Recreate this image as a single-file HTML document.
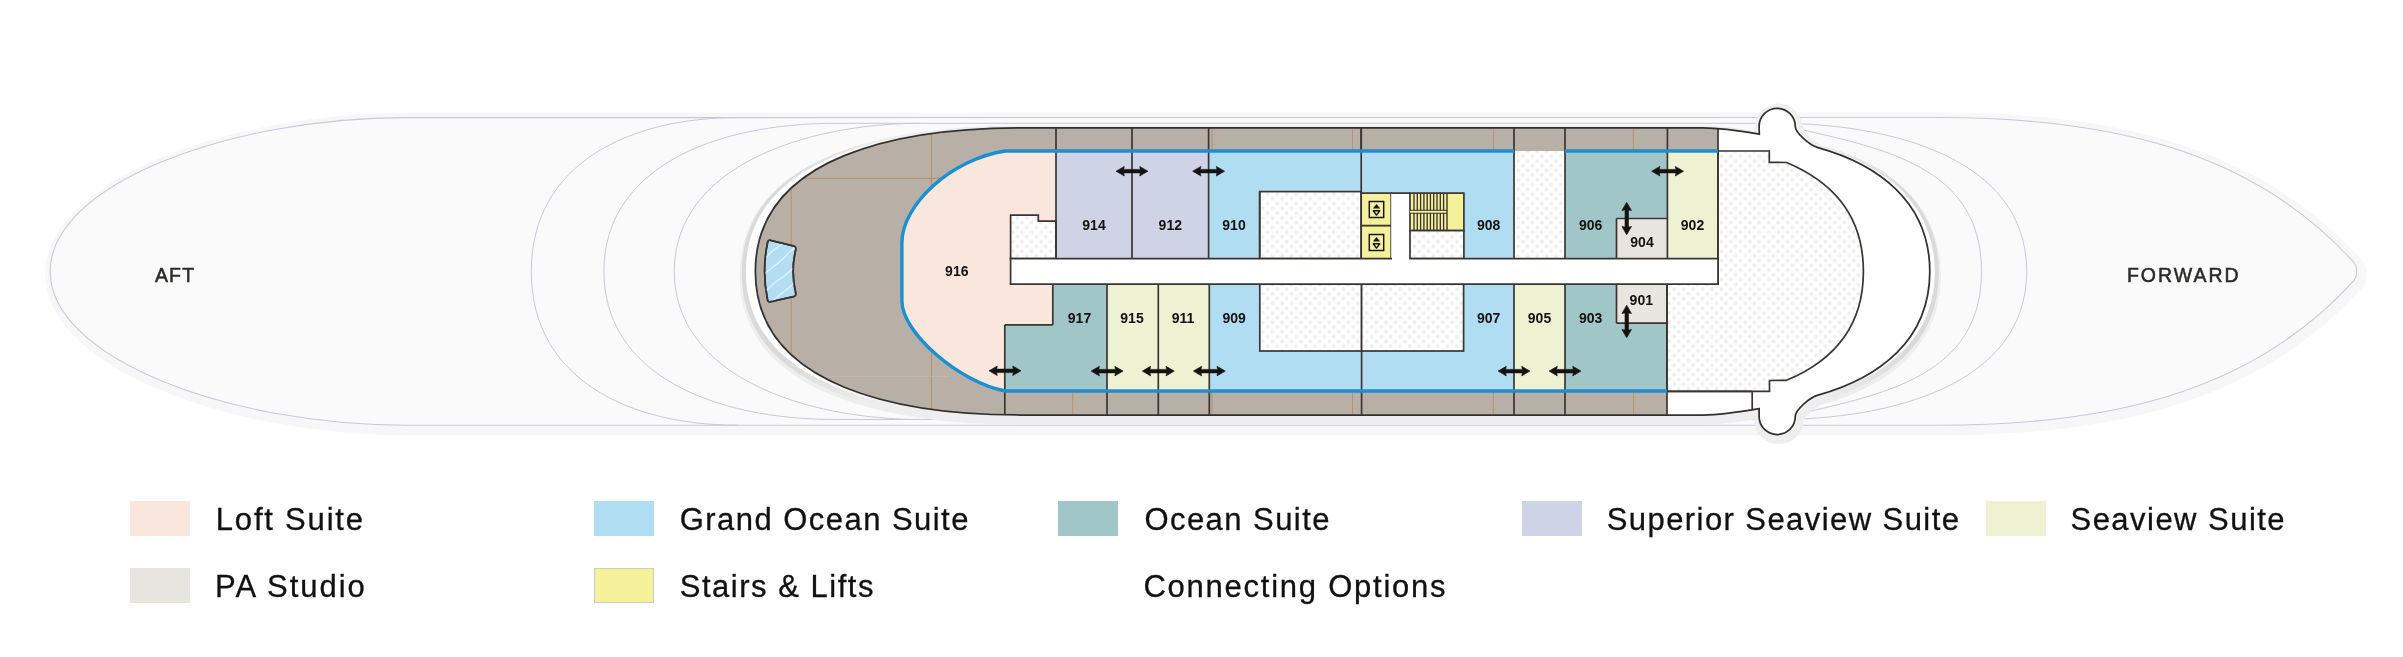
<!DOCTYPE html>
<html><head><meta charset="utf-8"><style>
html,body{margin:0;padding:0;background:#fff;width:2403px;height:657px;overflow:hidden;position:relative}
.lb{font-family:"Liberation Sans",sans-serif;font-weight:bold;font-size:14px;fill:#141210;text-anchor:middle}
.dir{font-family:"Liberation Sans",sans-serif;font-size:19.5px;fill:#2b2a29;stroke:#2b2a29;stroke-width:0.5px}
.lt{font-family:"Liberation Sans",sans-serif;font-size:31px;fill:#111;stroke:#111;stroke-width:0.3px}
</style></head><body>
<svg width="2403" height="657" viewBox="0 0 2403 657" style="position:absolute;left:0;top:0;will-change:transform">
<defs>
<pattern id="dots" x="3.85" y="6.5" width="9.45" height="9.5" patternUnits="userSpaceOnUse">
<rect width="9.45" height="9.5" fill="#ffffff"/>
<circle cx="2.4" cy="2.4" r="1.85" fill="#eeeeee"/><circle cx="7.13" cy="7.15" r="1.85" fill="#eeeeee"/>
</pattern>
<filter id="blur0" x="-5%" y="-20%" width="110%" height="140%"><feGaussianBlur stdDeviation="0.7"/></filter>
<filter id="blur1" x="-5%" y="-20%" width="110%" height="140%"><feGaussianBlur stdDeviation="1.6"/></filter>
<filter id="blur2" x="-5%" y="-20%" width="110%" height="140%"><feGaussianBlur stdDeviation="1.5"/></filter>
<clipPath id="bowclip"><path d="M1718,100 L2000,100 L2000,271 L2000,450 L1667,450 L1667,271 L1718,271 Z"/></clipPath>
</defs>
<path d="M406.3,117.6 L1937.5,117.5 C2101.6,117.5 2249.5,146.9 2353.5,262 C2356.2,265 2356.6,268 2356.6,271.4 C2356.6,274.8 2356.2,277.8 2353.5,280.8 C2249.5,395.9 2101.6,425.3 1937.5,425.3 L406.3,425.2 C227.4,425.2 50.2,357.8 50.2,271.4 C50.2,185 227.4,117.6 406.3,117.6 Z" fill="#f7f7f7" stroke="#f7f7f7" stroke-width="15" stroke-linejoin="round" transform="translate(2.5,2.6)" filter="url(#blur0)"/>
<path d="M406.3,117.6 L1937.5,117.5 C2101.6,117.5 2249.5,146.9 2353.5,262 C2356.2,265 2356.6,268 2356.6,271.4 C2356.6,274.8 2356.2,277.8 2353.5,280.8 C2249.5,395.9 2101.6,425.3 1937.5,425.3 L406.3,425.2 C227.4,425.2 50.2,357.8 50.2,271.4 C50.2,185 227.4,117.6 406.3,117.6 Z" fill="#fafafa" stroke="#c9c8dc" stroke-width="1.1"/>
<path d="M737.2,117.6 C630.2,117.6 531.3,163 531.3,271.4 C531.3,379.8 630.2,425.2 737.2,425.2" fill="none" stroke="#c9c8dc" stroke-width="1"/>
<path d="M835.7,123.3 C712.4,123.3 603.9,168.9 603.9,271.4 C603.9,373.9 712.4,419.5 835.7,419.5" fill="none" stroke="#c9c8dc" stroke-width="1"/>
<path d="M920.7,123.3 C807,123.3 674.3,165.7 674.3,271.4 C674.3,377.1 807,419.5 920.7,419.5" fill="none" stroke="#c9c8dc" stroke-width="1"/>
<path d="M1776.4,123.3 C1889.5,123.3 2026.7,157.5 2026.7,271.4 C2026.7,385.3 1889.5,419.5 1776.4,419.5" fill="none" stroke="#c9c8dc" stroke-width="1"/>
<path d="M1790,127 C1882.4,148.2 1981.5,165.8 1981.5,271.4 C1981.5,377 1882.4,394.6 1790,415.8" fill="none" stroke="#c9c8dc" stroke-width="1"/>
<line x1="835.7" y1="123.3" x2="1776.4" y2="123.3" stroke="#c9c8dc" stroke-width="1.0"/>
<line x1="835.7" y1="419.5" x2="1776.4" y2="419.5" stroke="#c9c8dc" stroke-width="1.0"/>
<clipPath id="cl"><rect x="0" y="0" width="1400" height="657"/></clipPath><clipPath id="cr"><rect x="1400" y="0" width="1003" height="657"/></clipPath>
<linearGradient id="gst" gradientUnits="userSpaceOnUse" x1="790" y1="0" x2="880" y2="0"><stop offset="0" stop-color="#dadada" stop-opacity="1"/><stop offset="1" stop-color="#dadada" stop-opacity="0"/></linearGradient>
<linearGradient id="gbw" gradientUnits="userSpaceOnUse" x1="1905" y1="0" x2="1820" y2="0"><stop offset="0" stop-color="#dadada" stop-opacity="1"/><stop offset="1" stop-color="#dadada" stop-opacity="0"/></linearGradient>
<g clip-path="url(#cl)"><g transform="translate(0,3.6)" filter="url(#blur0)"><path d="M1021.1,127.8 L1703,127.8 C1720,127.8 1740,130.8 1759.3,134.1 L1759.1,126.4 A18.1,18.1 0 0 1 1795.3,126.4 C1795.3,132.4 1809.3,145.2 1818,147.6 C1878.5,164.4 1929.8,202.2 1929.8,271.4 C1929.8,340.6 1878.5,378.3 1818,395.2 C1809.3,397.6 1795.3,410.4 1795.3,416.4 A18.1,18.1 0 0 1 1759.1,416.4 L1759.1,408.7 C1740,412 1720,415 1703,415 L1021.1,415 C903.6,415 755.4,388.7 755.4,271.4 C755.4,154.1 903.6,127.8 1021.1,127.8 Z" transform="matrix(1.0276,0,0,1,-30.36,0)" fill="#eeeeee" stroke="#eeeeee" stroke-width="12" stroke-linejoin="round"/></g></g>
<g clip-path="url(#cr)"><g transform="translate(0,3.6)" filter="url(#blur0)"><path d="M1021.1,127.8 L1703,127.8 C1720,127.8 1740,130.8 1759.3,134.1 L1759.1,126.4 A18.1,18.1 0 0 1 1795.3,126.4 C1795.3,132.4 1809.3,145.2 1818,147.6 C1878.5,164.4 1929.8,202.2 1929.8,271.4 C1929.8,340.6 1878.5,378.3 1818,395.2 C1809.3,397.6 1795.3,410.4 1795.3,416.4 A18.1,18.1 0 0 1 1759.1,416.4 L1759.1,408.7 C1740,412 1720,415 1703,415 L1021.1,415 C903.6,415 755.4,388.7 755.4,271.4 C755.4,154.1 903.6,127.8 1021.1,127.8 Z" transform="matrix(1.0217,0,0,1,-36.9,0)" fill="#eeeeee" stroke="#eeeeee" stroke-width="12" stroke-linejoin="round"/></g></g>
<g clip-path="url(#cl)"><g transform="translate(0,1.5)" filter="url(#blur0)"><path d="M1021.1,127.8 L1703,127.8 C1720,127.8 1740,130.8 1759.3,134.1 L1759.1,126.4 A18.1,18.1 0 0 1 1795.3,126.4 C1795.3,132.4 1809.3,145.2 1818,147.6 C1878.5,164.4 1929.8,202.2 1929.8,271.4 C1929.8,340.6 1878.5,378.3 1818,395.2 C1809.3,397.6 1795.3,410.4 1795.3,416.4 A18.1,18.1 0 0 1 1759.1,416.4 L1759.1,408.7 C1740,412 1720,415 1703,415 L1021.1,415 C903.6,415 755.4,388.7 755.4,271.4 C755.4,154.1 903.6,127.8 1021.1,127.8 Z" transform="matrix(1.0276,0,0,1,-30.36,0)" fill="none" stroke="url(#gst)" stroke-width="8" stroke-linejoin="round"/></g></g>
<g clip-path="url(#cr)"><g transform="translate(0,1.5)" filter="url(#blur0)"><path d="M1021.1,127.8 L1703,127.8 C1720,127.8 1740,130.8 1759.3,134.1 L1759.1,126.4 A18.1,18.1 0 0 1 1795.3,126.4 C1795.3,132.4 1809.3,145.2 1818,147.6 C1878.5,164.4 1929.8,202.2 1929.8,271.4 C1929.8,340.6 1878.5,378.3 1818,395.2 C1809.3,397.6 1795.3,410.4 1795.3,416.4 A18.1,18.1 0 0 1 1759.1,416.4 L1759.1,408.7 C1740,412 1720,415 1703,415 L1021.1,415 C903.6,415 755.4,388.7 755.4,271.4 C755.4,154.1 903.6,127.8 1021.1,127.8 Z" transform="matrix(1.0217,0,0,1,-36.9,0)" fill="none" stroke="url(#gbw)" stroke-width="8" stroke-linejoin="round"/></g></g>
<circle cx="1778.7" cy="126.9" r="23.3" fill="#efefef" filter="url(#blur0)"/>
<circle cx="1778.7" cy="417.59999999999997" r="23.5" fill="#eeeeee" filter="url(#blur0)"/>
<g clip-path="url(#cl)"><path d="M1021.1,127.8 L1703,127.8 C1720,127.8 1740,130.8 1759.3,134.1 L1759.1,126.4 A18.1,18.1 0 0 1 1795.3,126.4 C1795.3,132.4 1809.3,145.2 1818,147.6 C1878.5,164.4 1929.8,202.2 1929.8,271.4 C1929.8,340.6 1878.5,378.3 1818,395.2 C1809.3,397.6 1795.3,410.4 1795.3,416.4 A18.1,18.1 0 0 1 1759.1,416.4 L1759.1,408.7 C1740,412 1720,415 1703,415 L1021.1,415 C903.6,415 755.4,388.7 755.4,271.4 C755.4,154.1 903.6,127.8 1021.1,127.8 Z" transform="matrix(1.0276,0,0,1,-30.36,0)" fill="#ffffff"/></g>
<g clip-path="url(#cr)"><path d="M1021.1,127.8 L1703,127.8 C1720,127.8 1740,130.8 1759.3,134.1 L1759.1,126.4 A18.1,18.1 0 0 1 1795.3,126.4 C1795.3,132.4 1809.3,145.2 1818,147.6 C1878.5,164.4 1929.8,202.2 1929.8,271.4 C1929.8,340.6 1878.5,378.3 1818,395.2 C1809.3,397.6 1795.3,410.4 1795.3,416.4 A18.1,18.1 0 0 1 1759.1,416.4 L1759.1,408.7 C1740,412 1720,415 1703,415 L1021.1,415 C903.6,415 755.4,388.7 755.4,271.4 C755.4,154.1 903.6,127.8 1021.1,127.8 Z" transform="matrix(1.0217,0,0,1,-36.9,0)" fill="#ffffff"/></g>
<path d="M1021.1,127.8 L1703,127.8 C1720,127.8 1740,130.8 1759.3,134.1 L1759.1,126.4 A18.1,18.1 0 0 1 1795.3,126.4 C1795.3,132.4 1809.3,145.2 1818,147.6 C1878.5,164.4 1929.8,202.2 1929.8,271.4 C1929.8,340.6 1878.5,378.3 1818,395.2 C1809.3,397.6 1795.3,410.4 1795.3,416.4 A18.1,18.1 0 0 1 1759.1,416.4 L1759.1,408.7 C1740,412 1720,415 1703,415 L1021.1,415 C903.6,415 755.4,388.7 755.4,271.4 C755.4,154.1 903.6,127.8 1021.1,127.8 Z" fill="#b8afa6"/>
<path d="M1021.1,127.8 L1703,127.8 C1720,127.8 1740,130.8 1759.3,134.1 L1759.1,126.4 A18.1,18.1 0 0 1 1795.3,126.4 C1795.3,132.4 1809.3,145.2 1818,147.6 C1878.5,164.4 1929.8,202.2 1929.8,271.4 C1929.8,340.6 1878.5,378.3 1818,395.2 C1809.3,397.6 1795.3,410.4 1795.3,416.4 A18.1,18.1 0 0 1 1759.1,416.4 L1759.1,408.7 C1740,412 1720,415 1703,415 L1021.1,415 C903.6,415 755.4,388.7 755.4,271.4 C755.4,154.1 903.6,127.8 1021.1,127.8 Z" fill="#ffffff" clip-path="url(#bowclip)"/>
<clipPath id="deckclip"><path d="M1021.1,127.8 L1703,127.8 C1720,127.8 1740,130.8 1759.3,134.1 L1759.1,126.4 A18.1,18.1 0 0 1 1795.3,126.4 C1795.3,132.4 1809.3,145.2 1818,147.6 C1878.5,164.4 1929.8,202.2 1929.8,271.4 C1929.8,340.6 1878.5,378.3 1818,395.2 C1809.3,397.6 1795.3,410.4 1795.3,416.4 A18.1,18.1 0 0 1 1759.1,416.4 L1759.1,408.7 C1740,412 1720,415 1703,415 L1021.1,415 C903.6,415 755.4,388.7 755.4,271.4 C755.4,154.1 903.6,127.8 1021.1,127.8 Z"/></clipPath><g clip-path="url(#deckclip)">
<line x1="931.5" y1="120" x2="931.5" y2="420" stroke="#b98c5e" stroke-width="0.9"/>
<line x1="780" y1="178.3" x2="950" y2="178.3" stroke="#b98c5e" stroke-width="0.9"/>
<line x1="791.2" y1="178.3" x2="791.2" y2="355.2" stroke="#b98c5e" stroke-width="0.9"/>
<line x1="792" y1="376.5" x2="950" y2="376.5" stroke="#c2b8ae" stroke-width="0.9"/>
</g>
<line x1="1212.2" y1="128.5" x2="1212.2" y2="150" stroke="#b98c5e" stroke-width="0.8"/>
<line x1="1352.5" y1="128.5" x2="1352.5" y2="150" stroke="#b98c5e" stroke-width="0.8"/>
<line x1="1493.5" y1="128.5" x2="1493.5" y2="150" stroke="#b98c5e" stroke-width="0.8"/>
<line x1="1633.3" y1="128.5" x2="1633.3" y2="150" stroke="#b98c5e" stroke-width="0.8"/>
<line x1="1072.7" y1="392" x2="1072.7" y2="414" stroke="#b98c5e" stroke-width="0.8"/>
<line x1="1211.9" y1="392" x2="1211.9" y2="414" stroke="#b98c5e" stroke-width="0.8"/>
<line x1="1352.5" y1="392" x2="1352.5" y2="414" stroke="#b98c5e" stroke-width="0.8"/>
<line x1="1493.3" y1="392" x2="1493.3" y2="414" stroke="#b98c5e" stroke-width="0.8"/>
<line x1="1633.5" y1="392" x2="1633.5" y2="414" stroke="#b98c5e" stroke-width="0.8"/>
<path d="M770.3,240.3 L794.2,246.2 Q796,246.8 795.8,249.5 Q790.4,271 795.8,293.5 Q796,296 794.2,296.5 L770.3,301.8 Q768,302.3 767.6,300 Q761.6,271 767.6,242.5 Q768,239.8 770.3,240.3 Z" fill="#b2ddf3" stroke="#3a3533" stroke-width="1.8"/>
<clipPath id="poolclip"><path d="M770.3,240.3 L794.2,246.2 Q796,246.8 795.8,249.5 Q790.4,271 795.8,293.5 Q796,296 794.2,296.5 L770.3,301.8 Q768,302.3 767.6,300 Q761.6,271 767.6,242.5 Q768,239.8 770.3,240.3 Z"/></clipPath>
<path clip-path="url(#poolclip)" d="M765,258.5 C770,253 776,247 786,242 M764,274.5 C772,267 780,262 784,258 C788,254 792,249 797,246 M765,291 C772,285 778,280 783,277 C788,273 792,269 797,266 M770,303 C776,298 782,293 786,290 C790,287 794,283 797,281" fill="none" stroke="#e2f2fb" stroke-width="1.3"/>
<path d="M770.3,240.3 L794.2,246.2 Q796,246.8 795.8,249.5 Q790.4,271 795.8,293.5 Q796,296 794.2,296.5 L770.3,301.8 Q768,302.3 767.6,300 Q761.6,271 767.6,242.5 Q768,239.8 770.3,240.3 Z" fill="none" stroke="#3a3533" stroke-width="1.55"/>
<path d="M1056,151 L1005.5,151 C951.6,158.8 901.9,204.8 901.9,242.8 L901.9,300.9 C901.9,333.3 960.3,382.6 1005.5,391 L1004.8,391 L1004.8,324.8 L1052.8,324.8 L1052.8,284.2 L1010.6,284.2 L1010.6,258.6 L1056,258.6 Z" fill="#f9e6dd"/>
<rect x="1056" y="151" width="76" height="107.6" fill="#cfd3e6"/>
<rect x="1132" y="151" width="76.6" height="107.6" fill="#cfd3e6"/>
<rect x="1208.6" y="151" width="305.4" height="107.6" fill="#b1ddf3"/>
<rect x="1514" y="151" width="51" height="107.6" fill="url(#dots)"/>
<rect x="1565" y="151" width="102.4" height="107.6" fill="#a0c6c7"/>
<rect x="1616.5" y="218.5" width="50.9" height="40.1" fill="#e8e4de"/>
<rect x="1667.4" y="151" width="50.6" height="107.6" fill="#eef1d2"/>
<path d="M1010.6,215.2 L1038.3,215.2 L1038.3,221.1 L1056,221.1 L1056,258.6 L1010.6,258.6 Z" fill="url(#dots)" stroke="#3a3533" stroke-width="1.7"/>
<rect x="1259.7" y="191.6" width="101.5" height="67" fill="url(#dots)" stroke="#3a3533" stroke-width="1.7"/>
<rect x="1361.2" y="193.1" width="30" height="32.6" fill="#f5f09a" stroke="#3a3533" stroke-width="1.7"/>
<rect x="1361.2" y="225.7" width="30" height="33.1" fill="#f5f09a" stroke="#3a3533" stroke-width="1.7"/>
<rect x="1391.2" y="193.1" width="18.8" height="66.9" fill="#ffffff"/>
<line x1="1391.2" y1="193.1" x2="1410" y2="193.1" stroke="#3a3533" stroke-width="1.7"/>
<rect x="1410" y="193.1" width="53.9" height="37.5" fill="#f5f09a" stroke="#3a3533" stroke-width="1.7"/>
<rect x="1410" y="230.6" width="53.9" height="28" fill="url(#dots)" stroke="#3a3533" stroke-width="1.7"/>
<rect x="1369.3" y="201.5" width="14.4" height="16" fill="none" stroke="#161412" stroke-width="1.45"/><polygon points="1376.5,204.1 1380.1,208.5 1372.9,208.5" fill="#151311"/><polygon points="1373.3,210.8 1379.7,210.8 1376.5,215.1" fill="none" stroke="#151311" stroke-width="1.45" stroke-linejoin="round"/>
<rect x="1369.3" y="234.5" width="14.4" height="16" fill="none" stroke="#161412" stroke-width="1.45"/><polygon points="1376.5,237.1 1380.1,241.5 1372.9,241.5" fill="#151311"/><polygon points="1373.3,243.8 1379.7,243.8 1376.5,248.1" fill="none" stroke="#151311" stroke-width="1.45" stroke-linejoin="round"/>
<line x1="1414" y1="193.5" x2="1414" y2="230.2" stroke="#3a3533" stroke-width="1.35"/><line x1="1417.3" y1="193.5" x2="1417.3" y2="230.2" stroke="#3a3533" stroke-width="1.35"/><line x1="1420.6" y1="193.5" x2="1420.6" y2="230.2" stroke="#3a3533" stroke-width="1.35"/><line x1="1423.9" y1="193.5" x2="1423.9" y2="230.2" stroke="#3a3533" stroke-width="1.35"/><line x1="1427.2" y1="193.5" x2="1427.2" y2="230.2" stroke="#3a3533" stroke-width="1.35"/><line x1="1430.4" y1="193.5" x2="1430.4" y2="230.2" stroke="#3a3533" stroke-width="1.35"/><line x1="1433.7" y1="193.5" x2="1433.7" y2="230.2" stroke="#3a3533" stroke-width="1.35"/><line x1="1437" y1="193.5" x2="1437" y2="230.2" stroke="#3a3533" stroke-width="1.35"/><line x1="1440.3" y1="193.5" x2="1440.3" y2="230.2" stroke="#3a3533" stroke-width="1.35"/><line x1="1443.6" y1="193.5" x2="1443.6" y2="230.2" stroke="#3a3533" stroke-width="1.35"/>
<rect x="1410" y="210.6" width="37" height="2.4" fill="#f5f09a"/>
<line x1="1410" y1="210.3" x2="1447" y2="210.3" stroke="#3a3533" stroke-width="1.1"/>
<line x1="1410" y1="213.3" x2="1447" y2="213.3" stroke="#3a3533" stroke-width="1.1"/>
<line x1="1447" y1="193.1" x2="1447" y2="230.6" stroke="#3a3533" stroke-width="1.4"/>
<path d="M1052.8,284.2 L1107,284.2 L1107,391 L1004.8,391 L1004.8,324.8 L1052.8,324.8 Z" fill="#a0c6c7"/>
<rect x="1107" y="284.2" width="51.3" height="106.8" fill="#eef1d2"/>
<rect x="1158.3" y="284.2" width="51" height="106.8" fill="#eef1d2"/>
<rect x="1209.3" y="284.2" width="304.7" height="106.8" fill="#b1ddf3"/>
<rect x="1514" y="284.2" width="51" height="106.8" fill="#eef1d2"/>
<rect x="1565" y="284.2" width="102" height="106.8" fill="#a0c6c7"/>
<rect x="1616.5" y="284.2" width="50.5" height="38.9" fill="#e8e4de"/>
<rect x="1259.8" y="284.2" width="101.8" height="66.8" fill="url(#dots)" stroke="#3a3533" stroke-width="1.7"/>
<rect x="1361.6" y="284.2" width="102" height="66.8" fill="url(#dots)" stroke="#3a3533" stroke-width="1.7"/>
<path d="M1718,151 L1769.3,151 L1769.3,162.3 L1786.5,162.5 C1837.7,183.9 1863.4,219.1 1863.4,271.4 C1863.4,323.7 1837.7,358.9 1786.5,380.3 L1769.5,380.5 L1769.5,391.4 L1667,391.4 L1667,284.2 L1718,284.2 Z" fill="url(#dots)" stroke="#3a3533" stroke-width="1.7"/>
<rect x="1010.6" y="258.6" width="707.4" height="25.6" fill="#ffffff"/>
<line x1="1009.8" y1="258.6" x2="1392" y2="258.6" stroke="#3a3533" stroke-width="1.7"/>
<line x1="1409.2" y1="258.6" x2="1718.8" y2="258.6" stroke="#3a3533" stroke-width="1.7"/>
<line x1="1009.8" y1="284.2" x2="1718.8" y2="284.2" stroke="#3a3533" stroke-width="1.7"/>
<line x1="1010.6" y1="258.6" x2="1010.6" y2="284.2" stroke="#3a3533" stroke-width="1.7"/>
<line x1="1718" y1="258.6" x2="1718" y2="284.2" stroke="#3a3533" stroke-width="1.7"/>
<line x1="1056" y1="128" x2="1056" y2="258.6" stroke="#3a3533" stroke-width="1.7"/>
<line x1="1132" y1="128" x2="1132" y2="258.6" stroke="#3a3533" stroke-width="1.7"/>
<line x1="1208.6" y1="128" x2="1208.6" y2="258.6" stroke="#3a3533" stroke-width="1.7"/>
<line x1="1361.2" y1="128" x2="1361.2" y2="193.1" stroke="#3a3533" stroke-width="1.7"/>
<line x1="1361.2" y1="128" x2="1361.2" y2="151" stroke="#3a3533" stroke-width="1.7"/>
<line x1="1514" y1="128" x2="1514" y2="258.6" stroke="#3a3533" stroke-width="1.7"/>
<line x1="1565" y1="128" x2="1565" y2="258.6" stroke="#3a3533" stroke-width="1.7"/>
<line x1="1667.4" y1="128" x2="1667.4" y2="258.6" stroke="#3a3533" stroke-width="1.7"/>
<line x1="1718" y1="128.7" x2="1718" y2="258.6" stroke="#3a3533" stroke-width="1.7"/>
<line x1="1616.5" y1="218.5" x2="1667.4" y2="218.5" stroke="#3a3533" stroke-width="1.7"/>
<line x1="1616.5" y1="218.5" x2="1616.5" y2="258.6" stroke="#3a3533" stroke-width="1.7"/>
<line x1="1259.7" y1="191.6" x2="1259.7" y2="258.6" stroke="#3a3533" stroke-width="1.7"/>
<line x1="1052.8" y1="284.2" x2="1052.8" y2="324.8" stroke="#3a3533" stroke-width="1.7"/>
<line x1="1004.8" y1="324.8" x2="1052.8" y2="324.8" stroke="#3a3533" stroke-width="1.7"/>
<line x1="1004.8" y1="324.8" x2="1004.8" y2="415" stroke="#3a3533" stroke-width="1.7"/>
<line x1="1107" y1="284.2" x2="1107" y2="415" stroke="#3a3533" stroke-width="1.7"/>
<line x1="1158.3" y1="284.2" x2="1158.3" y2="415" stroke="#3a3533" stroke-width="1.7"/>
<line x1="1209.3" y1="284.2" x2="1209.3" y2="415" stroke="#3a3533" stroke-width="1.7"/>
<line x1="1514" y1="284.2" x2="1514" y2="415" stroke="#3a3533" stroke-width="1.7"/>
<line x1="1565" y1="284.2" x2="1565" y2="415" stroke="#3a3533" stroke-width="1.7"/>
<line x1="1667" y1="284.2" x2="1667" y2="415" stroke="#3a3533" stroke-width="1.7"/>
<line x1="1361.6" y1="351" x2="1361.6" y2="415" stroke="#3a3533" stroke-width="1.7"/>
<line x1="1616.5" y1="323.1" x2="1667" y2="323.1" stroke="#3a3533" stroke-width="1.7"/>
<line x1="1616.5" y1="284.2" x2="1616.5" y2="323.1" stroke="#3a3533" stroke-width="1.7"/>
<line x1="1752.2" y1="391.4" x2="1752.2" y2="409.6" stroke="#3a3533" stroke-width="1.7"/>
<line x1="1667" y1="391.4" x2="1752.2" y2="391.4" stroke="#3a3533" stroke-width="1.7"/>
<path d="M1514,151 L1005.5,151 C951.6,158.8 901.9,204.8 901.9,242.8 L901.9,300.9 C901.9,333.3 960.3,382.6 1005.5,391 L1667,391" fill="none" stroke="#1b8fd4" stroke-width="3.4"/>
<line x1="1565" y1="151" x2="1718" y2="151" stroke="#1b8fd4" stroke-width="3.4"/>
<path d="M1021.1,127.8 L1703,127.8 C1720,127.8 1740,130.8 1759.3,134.1 L1759.1,126.4 A18.1,18.1 0 0 1 1795.3,126.4 C1795.3,132.4 1809.3,145.2 1818,147.6 C1878.5,164.4 1929.8,202.2 1929.8,271.4 C1929.8,340.6 1878.5,378.3 1818,395.2 C1809.3,397.6 1795.3,410.4 1795.3,416.4 A18.1,18.1 0 0 1 1759.1,416.4 L1759.1,408.7 C1740,412 1720,415 1703,415 L1021.1,415 C903.6,415 755.4,388.7 755.4,271.4 C755.4,154.1 903.6,127.8 1021.1,127.8 Z" fill="none" stroke="#33302e" stroke-width="1.75"/>
<polygon points="1116,171.2 1124.3,166.4 1123.7,169.4 1140.3,169.4 1139.7,166.4 1148,171.2 1139.7,176 1140.3,172.9 1123.7,172.9 1124.3,176" fill="#151311" stroke="#151311" stroke-width="0.6" stroke-linejoin="round"/>
<polygon points="1192.6,171.2 1200.9,166.4 1200.3,169.4 1216.9,169.4 1216.3,166.4 1224.6,171.2 1216.3,176 1216.9,172.9 1200.3,172.9 1200.9,176" fill="#151311" stroke="#151311" stroke-width="0.6" stroke-linejoin="round"/>
<polygon points="1651.6,171.2 1659.9,166.4 1659.3,169.4 1675.9,169.4 1675.3,166.4 1683.6,171.2 1675.3,176 1675.9,172.9 1659.3,172.9 1659.9,176" fill="#151311" stroke="#151311" stroke-width="0.6" stroke-linejoin="round"/>
<polygon points="989,370.8 997.3,366 996.7,369.1 1013.3,369.1 1012.7,366 1021,370.8 1012.7,375.6 1013.3,372.6 996.7,372.6 997.3,375.6" fill="#151311" stroke="#151311" stroke-width="0.6" stroke-linejoin="round"/>
<polygon points="1091.1,371.1 1099.4,366.3 1098.8,369.4 1115.4,369.4 1114.8,366.3 1123.1,371.1 1114.8,375.9 1115.4,372.9 1098.8,372.9 1099.4,375.9" fill="#151311" stroke="#151311" stroke-width="0.6" stroke-linejoin="round"/>
<polygon points="1142.3,371.1 1150.6,366.3 1150,369.4 1166.6,369.4 1166,366.3 1174.3,371.1 1166,375.9 1166.6,372.9 1150,372.9 1150.6,375.9" fill="#151311" stroke="#151311" stroke-width="0.6" stroke-linejoin="round"/>
<polygon points="1193.3,371.1 1201.6,366.3 1201,369.4 1217.6,369.4 1217,366.3 1225.3,371.1 1217,375.9 1217.6,372.9 1201,372.9 1201.6,375.9" fill="#151311" stroke="#151311" stroke-width="0.6" stroke-linejoin="round"/>
<polygon points="1498,371.1 1506.3,366.3 1505.7,369.4 1522.3,369.4 1521.7,366.3 1530,371.1 1521.7,375.9 1522.3,372.9 1505.7,372.9 1506.3,375.9" fill="#151311" stroke="#151311" stroke-width="0.6" stroke-linejoin="round"/>
<polygon points="1549,371.1 1557.3,366.3 1556.7,369.4 1573.3,369.4 1572.7,366.3 1581,371.1 1572.7,375.9 1573.3,372.9 1556.7,372.9 1557.3,375.9" fill="#151311" stroke="#151311" stroke-width="0.6" stroke-linejoin="round"/>
<polygon points="1626.7,202.2 1631.5,210.5 1628.5,209.9 1628.5,227.1 1631.5,226.5 1626.7,234.8 1621.9,226.5 1625,227.1 1625,209.9 1621.9,210.5" fill="#151311" stroke="#151311" stroke-width="0.6" stroke-linejoin="round"/>
<polygon points="1626.7,305.2 1631.5,313.5 1628.5,312.9 1628.5,330.1 1631.5,329.5 1626.7,337.8 1621.9,329.5 1625,330.1 1625,312.9 1621.9,313.5" fill="#151311" stroke="#151311" stroke-width="0.6" stroke-linejoin="round"/>
<text x="956.8" y="276.4" class="lb">916</text>
<text x="1094" y="230.4" class="lb">914</text>
<text x="1170.3" y="230.4" class="lb">912</text>
<text x="1234" y="230.4" class="lb">910</text>
<text x="1488.6" y="230.4" class="lb">908</text>
<text x="1590.6" y="230.4" class="lb">906</text>
<text x="1642" y="247.4" class="lb">904</text>
<text x="1692.5" y="230.4" class="lb">902</text>
<text x="1079.5" y="322.8" class="lb">917</text>
<text x="1132" y="322.8" class="lb">915</text>
<text x="1183" y="322.8" class="lb">911</text>
<text x="1234.2" y="322.8" class="lb">909</text>
<text x="1488.7" y="322.8" class="lb">907</text>
<text x="1539.5" y="322.8" class="lb">905</text>
<text x="1590.6" y="322.8" class="lb">903</text>
<text x="1641.3" y="304.8" class="lb">901</text>
<text x="154.9" y="281.6" class="dir" letter-spacing="1.2">AFT</text>
<text x="2126.9" y="281.7" class="dir" letter-spacing="2.0">FORWARD</text>
<rect x="130" y="501" width="60" height="35" fill="#f9e6dd"/>
<text x="215.8" y="530" class="lt" letter-spacing="1.8">Loft Suite</text>
<rect x="594" y="501" width="60" height="35" fill="#b1ddf3"/>
<text x="679.7" y="530" class="lt" letter-spacing="1.46">Grand Ocean Suite</text>
<rect x="1058" y="501" width="60" height="35" fill="#a0c6c7"/>
<text x="1144.4" y="530" class="lt" letter-spacing="1.45">Ocean Suite</text>
<rect x="1522" y="501" width="60" height="35" fill="#cfd3e6"/>
<text x="1606.7" y="530" class="lt" letter-spacing="1.43">Superior Seaview Suite</text>
<rect x="1986" y="501" width="60" height="35" fill="#eef1d2"/>
<text x="2070.5" y="530" class="lt" letter-spacing="1.47">Seaview Suite</text>
<rect x="130" y="568" width="60" height="35" fill="#e8e4de"/>
<text x="215" y="597" class="lt" letter-spacing="2.0">PA Studio</text>
<rect x="594.5" y="568.5" width="59" height="34" fill="#f5f09a" stroke="#cccccc" stroke-width="1"/>
<text x="679.7" y="597" class="lt" letter-spacing="1.52">Stairs &amp; Lifts</text>
<text x="1143.4" y="597" class="lt" letter-spacing="1.76">Connecting Options</text>
</svg>
</body></html>
